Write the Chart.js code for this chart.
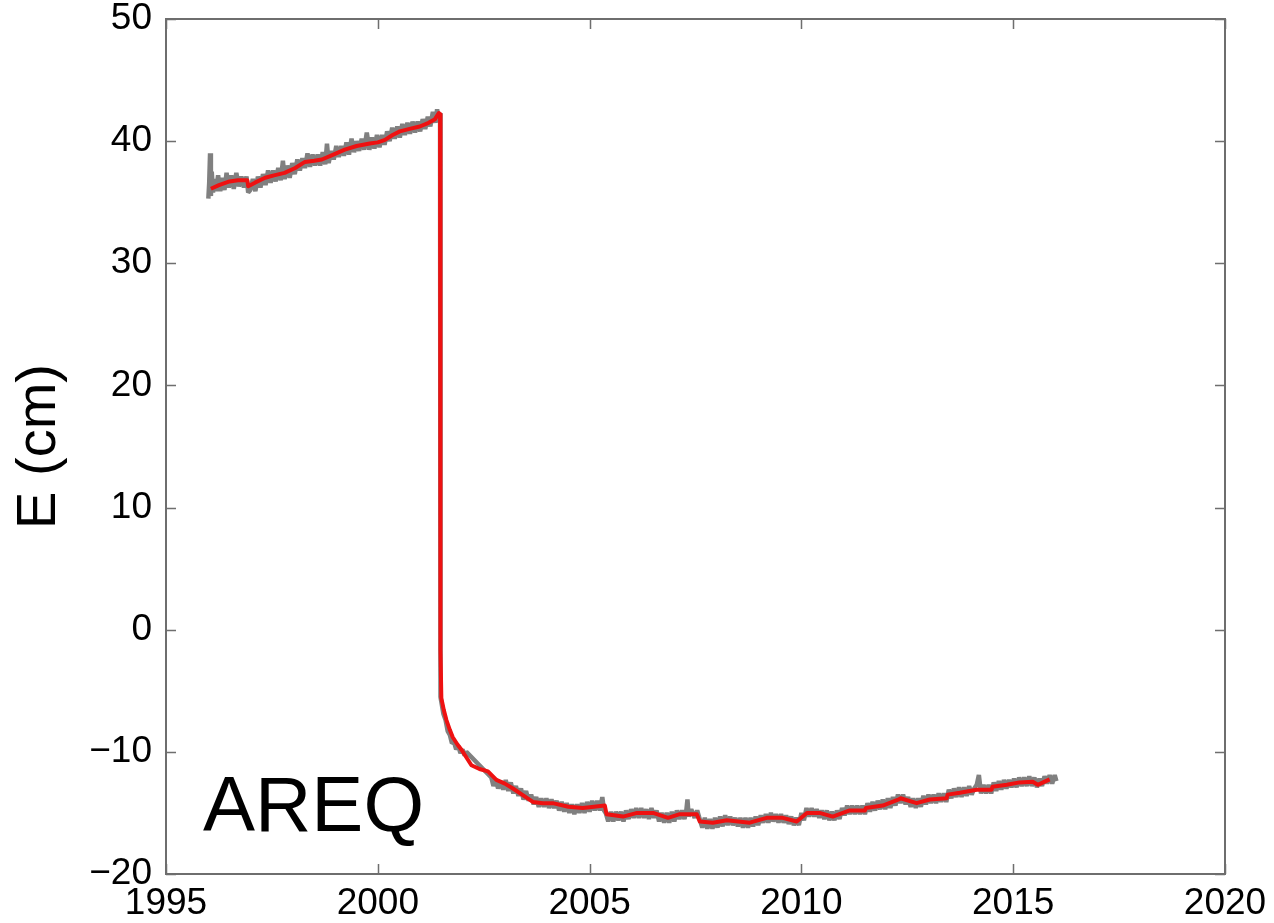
<!DOCTYPE html>
<html>
<head>
<meta charset="utf-8">
<script src="https://cdn.jsdelivr.net/npm/chart.js@4.4.1/dist/chart.umd.min.js"></script>
<style>
  html, body { margin: 0; padding: 0; background: #fff; }
  #wrap { width: 1274px; height: 923px; position: relative; }
</style>
</head>
<body>
<div id="wrap"><canvas id="grafico" width="1274" height="923"></canvas></div>
<script>
// station name + axis ticks
const station = 'AREQ';
const xTicks = [1995, 2000, 2005, 2010, 2015, 2020];
const yTicks = [-20, -10, 0, 10, 20, 30, 40, 50];

// observed daily positions (grey), east component, cm
const obsYears = [
  1996.00, 1996.02, 1996.04, 1996.06, 1996.08, 1996.11, 1996.14, 1996.18, 1996.23, 1996.28,
  1996.33, 1996.38, 1996.43, 1996.48, 1996.54, 1996.60, 1996.66, 1996.72, 1996.78, 1996.84,
  1996.90, 1996.94, 1996.99, 1997.05, 1997.11, 1997.17, 1997.23, 1997.29, 1997.35, 1997.41,
  1997.47, 1997.53, 1997.59, 1997.65, 1997.71, 1997.76, 1997.80, 1997.86, 1997.92, 1997.98,
  1998.04, 1998.10, 1998.16, 1998.22, 1998.28, 1998.34, 1998.40, 1998.46, 1998.52, 1998.58,
  1998.64, 1998.70, 1998.76, 1998.80, 1998.84, 1998.90, 1998.96, 1999.02, 1999.08, 1999.14,
  1999.20, 1999.26, 1999.32, 1999.38, 1999.44, 1999.50, 1999.56, 1999.62, 1999.68, 1999.74,
  1999.80, 1999.86, 1999.92, 1999.98, 2000.04, 2000.10, 2000.16, 2000.22, 2000.28, 2000.34,
  2000.40, 2000.46, 2000.52, 2000.58, 2000.64, 2000.70, 2000.76, 2000.82, 2000.88, 2000.94,
  2001.00, 2001.06, 2001.12, 2001.18, 2001.24, 2001.30, 2001.36, 2001.40, 2001.44, 2001.47,
  2001.48, 2001.50, 2001.55, 2001.60, 2001.65, 2001.70, 2001.75, 2001.80, 2001.85, 2001.90,
  2001.95, 2002.00, 2002.05, 2002.09, 2002.68, 2002.73, 2002.78, 2002.84, 2002.90, 2002.96,
  2003.02, 2003.08, 2003.14, 2003.20, 2003.26, 2003.32, 2003.38, 2003.44, 2003.50, 2003.56,
  2003.62, 2003.68, 2003.74, 2003.80, 2003.86, 2003.92, 2003.98, 2004.04, 2004.10, 2004.16,
  2004.22, 2004.28, 2004.34, 2004.40, 2004.46, 2004.52, 2004.58, 2004.64, 2004.70, 2004.76,
  2004.82, 2004.88, 2004.94, 2005.00, 2005.06, 2005.12, 2005.18, 2005.24, 2005.30, 2005.34,
  2005.38, 2005.44, 2005.50, 2005.56, 2005.62, 2005.68, 2005.74, 2005.80, 2005.86, 2005.92,
  2005.98, 2006.04, 2006.10, 2006.16, 2006.22, 2006.28, 2006.34, 2006.40, 2006.46, 2006.52,
  2006.58, 2006.64, 2006.70, 2006.76, 2006.82, 2006.88, 2006.94, 2007.00, 2007.06, 2007.12,
  2007.18, 2007.24, 2007.28, 2007.31, 2007.34, 2007.40, 2007.48, 2007.54, 2007.60, 2007.66,
  2007.72, 2007.78, 2007.84, 2007.90, 2007.96, 2008.02, 2008.08, 2008.14, 2008.20, 2008.26,
  2008.32, 2008.38, 2008.44, 2008.50, 2008.56, 2008.62, 2008.68, 2008.74, 2008.80, 2008.86,
  2008.92, 2008.98, 2009.04, 2009.10, 2009.16, 2009.22, 2009.28, 2009.34, 2009.40, 2009.46,
  2009.52, 2009.58, 2009.64, 2009.70, 2009.76, 2009.82, 2009.88, 2009.94, 2010.00, 2010.06,
  2010.12, 2010.18, 2010.24, 2010.30, 2010.36, 2010.42, 2010.48, 2010.54, 2010.60, 2010.66,
  2010.72, 2010.78, 2010.84, 2010.90, 2010.96, 2011.02, 2011.08, 2011.14, 2011.20, 2011.26,
  2011.32, 2011.38, 2011.44, 2011.50, 2011.56, 2011.62, 2011.68, 2011.74, 2011.80, 2011.86,
  2011.92, 2011.98, 2012.04, 2012.10, 2012.16, 2012.22, 2012.28, 2012.34, 2012.40, 2012.46,
  2012.52, 2012.58, 2012.64, 2012.70, 2012.76, 2012.82, 2012.88, 2012.94, 2013.00, 2013.06,
  2013.12, 2013.18, 2013.24, 2013.30, 2013.36, 2013.42, 2013.48, 2013.54, 2013.60, 2013.66,
  2013.72, 2013.78, 2013.84, 2013.90, 2013.96, 2014.02, 2014.08, 2014.14, 2014.19, 2014.24,
  2014.30, 2014.36, 2014.42, 2014.48, 2014.54, 2014.60, 2014.66, 2014.72, 2014.78, 2014.84,
  2014.90, 2014.96, 2015.02, 2015.08, 2015.14, 2015.20, 2015.26, 2015.32, 2015.38, 2015.44,
  2015.50, 2015.56, 2015.62, 2015.68, 2015.74, 2015.80, 2015.86, 2015.92, 2015.98, 2016.02
];
const obsEast = [
  35.3, 36.6, 39.0, 35.5, 37.5, 35.8, 36.9, 35.9, 37.2, 35.9,
  37.0, 36.0, 37.4, 36.2, 37.2, 36.1, 37.4, 36.3, 37.1, 36.2,
  37.1, 35.8, 36.0, 36.9, 35.9, 37.1, 36.2, 37.3, 36.4, 37.6,
  36.6, 37.6, 36.7, 37.8, 36.8, 38.4, 36.9, 38.0, 37.0, 38.2,
  37.3, 38.5, 37.6, 38.6, 37.8, 39.0, 37.9, 38.9, 38.0, 38.9,
  38.0, 39.1, 38.1, 39.8, 38.2, 39.2, 38.5, 39.6, 38.7, 39.6,
  38.8, 39.9, 38.9, 40.2, 39.1, 40.0, 39.2, 40.2, 39.3, 40.7,
  39.3, 40.3, 39.4, 40.5, 39.5, 40.5, 39.7, 40.8, 40.0, 41.1,
  40.2, 41.2, 40.3, 41.4, 40.5, 41.5, 40.6, 41.6, 40.7, 41.6,
  40.8, 41.8, 41.0, 42.0, 41.2, 42.4, 41.5, 42.6, 41.8, 42.3,
  -5.5, -5.9, -6.9, -7.4, -8.3, -8.6, -9.3, -9.2, -9.8, -9.5,
  -10.1, -9.8, -10.3, -10.0, -12.1, -12.8, -12.2, -13.0, -12.4, -13.1,
  -12.3, -13.2, -12.5, -13.4, -12.8, -13.6, -13.0, -13.9, -13.2, -14.0,
  -13.5, -14.3, -13.7, -14.5, -13.8, -14.5, -13.8, -14.6, -13.9, -14.6,
  -14.0, -14.8, -14.1, -14.9, -14.2, -15.0, -14.3, -15.1, -14.3, -15.0,
  -14.2, -15.0, -14.1, -14.9, -14.0, -14.8, -14.0, -14.8, -13.7, -14.8,
  -15.0, -15.7, -14.9, -15.7, -14.9, -15.6, -14.9, -15.7, -14.8, -15.5,
  -14.7, -15.4, -14.6, -15.4, -14.6, -15.4, -14.7, -15.5, -14.6, -15.4,
  -14.8, -15.7, -15.0, -15.8, -15.0, -15.8, -14.9, -15.7, -14.8, -15.5,
  -14.8, -15.5, -14.9, -13.9, -15.3, -14.7, -15.4, -14.8, -15.5, -16.2,
  -15.4, -16.3, -15.5, -16.3, -15.4, -16.2, -15.3, -16.1, -15.2, -16.0,
  -15.3, -16.0, -15.4, -16.1, -15.4, -16.2, -15.4, -16.2, -15.4, -16.1,
  -15.3, -16.0, -15.2, -15.8, -15.1, -15.8, -15.0, -15.7, -15.1, -15.8,
  -15.1, -15.8, -15.2, -15.9, -15.3, -16.0, -15.4, -16.0, -15.0, -15.6,
  -14.6, -15.3, -14.6, -15.3, -14.7, -15.4, -14.8, -15.5, -14.8, -15.6,
  -14.9, -15.6, -14.8, -15.5, -14.6, -15.2, -14.4, -15.1, -14.4, -15.1,
  -14.4, -15.1, -14.4, -15.1, -14.2, -14.9, -14.1, -14.8, -14.0, -14.7,
  -13.9, -14.7, -13.8, -14.6, -13.7, -14.4, -13.5, -14.2, -13.5, -14.3,
  -13.7, -14.5, -13.8, -14.6, -13.8, -14.5, -13.6, -14.3, -13.5, -14.2,
  -13.5, -14.2, -13.4, -14.1, -13.4, -14.1, -13.1, -13.8, -13.0, -13.7,
  -12.9, -13.7, -12.9, -13.6, -12.8, -13.5, -13.0, -12.7, -11.9, -13.4,
  -12.7, -13.4, -12.7, -13.4, -12.5, -13.2, -12.4, -13.1, -12.3, -13.0,
  -12.3, -12.9, -12.2, -12.9, -12.1, -12.8, -12.1, -12.8, -12.0, -12.8,
  -12.1, -12.9, -12.2, -12.8, -12.0, -12.6, -11.9, -12.6, -11.9, -12.4
];

// model (red): trend + seasonal + coseismic + postseismic
const modelYears = [
  1996.06, 1996.25, 1996.50, 1996.70, 1996.92, 1996.94, 1997.10, 1997.34, 1997.55, 1997.80,
  1998.05, 1998.28, 1998.50, 1998.68, 1998.95, 1999.22, 1999.50, 1999.81, 2000.00, 2000.17,
  2000.35, 2000.52, 2000.75, 2000.99, 2001.20, 2001.35, 2001.44, 2001.47, 2001.48, 2001.50,
  2001.56, 2001.62, 2001.70, 2001.77, 2001.88, 2001.98, 2002.10, 2002.21, 2002.40, 2002.60,
  2002.80, 2003.00, 2003.19, 2003.45, 2003.66, 2003.90, 2004.13, 2004.50, 2004.84, 2005.10,
  2005.36, 2005.40, 2005.79, 2006.12, 2006.50, 2006.85, 2007.13, 2007.53, 2007.60, 2007.91,
  2008.24, 2008.78, 2009.18, 2009.56, 2009.89, 2010.13, 2010.43, 2010.74, 2011.14, 2011.50,
  2011.52, 2011.92, 2012.30, 2012.34, 2012.72, 2013.03, 2013.43, 2013.45, 2013.74, 2014.14,
  2014.49, 2014.51, 2014.85, 2015.15, 2015.46, 2015.58, 2015.86
];
const modelEast = [
  36.1, 36.4, 36.7, 36.8, 36.8, 36.3, 36.6, 37.0, 37.2, 37.4,
  37.8, 38.3, 38.4, 38.5, 38.9, 39.3, 39.6, 39.8, 39.9, 40.1,
  40.5, 40.8, 41.0, 41.2, 41.5, 41.8, 42.3, 42.2, -1.7, -5.6,
  -6.6, -7.4, -8.2, -8.8, -9.4, -9.85, -10.5, -11.1, -11.4, -11.6,
  -12.3, -12.6, -13.0, -13.6, -14.1, -14.2, -14.2, -14.5, -14.6, -14.5,
  -14.4, -15.1, -15.3, -15.0, -15.0, -15.4, -15.1, -15.1, -15.7, -15.8,
  -15.6, -15.8, -15.4, -15.4, -15.7, -15.0, -15.0, -15.3, -14.8, -14.8,
  -14.6, -14.4, -13.9, -13.8, -14.2, -13.9, -13.8, -13.5, -13.35, -13.1,
  -13.1, -12.85, -12.7, -12.5, -12.45, -12.7, -12.25
];

const fuente = '"Liberation Sans", Arial, Helvetica, sans-serif';
const toPts = (xs, ys) => xs.map((x, i) => ({ x: x, y: ys[i] }));
const menos = (v) => String(v).replace('-', '\u2212');

// frame on all four sides with inward ticks, plus station label
const marco = {
  id: 'marco',
  afterDraw(chart) {
    const { ctx, chartArea: a, scales } = chart;
    ctx.save();
    ctx.strokeStyle = '#6e6e6e';
    ctx.lineWidth = 2;
    ctx.strokeRect(a.left, a.top, a.right - a.left, a.bottom - a.top);
    ctx.lineWidth = 1.5;
    ctx.beginPath();
    xTicks.forEach(t => {
      const px = Math.round(scales.x.getPixelForValue(t)) + 0.5;
      ctx.moveTo(px, a.bottom); ctx.lineTo(px, a.bottom - 10);
      ctx.moveTo(px, a.top); ctx.lineTo(px, a.top + 10);
    });
    yTicks.forEach(t => {
      const py = Math.round(scales.y.getPixelForValue(t)) + 0.5;
      ctx.moveTo(a.left, py); ctx.lineTo(a.left + 10, py);
      ctx.moveTo(a.right, py); ctx.lineTo(a.right - 10, py);
    });
    ctx.stroke();
    ctx.fillStyle = '#000';
    ctx.font = '78px ' + fuente;
    ctx.textBaseline = 'alphabetic';
    ctx.fillText(station, a.left + 37, a.bottom - 43);
    ctx.restore();
  }
};

const canvas = document.querySelector('#grafico');
const miGrafico = new Chart(canvas.getContext('2d'), {
  type: 'scatter',
  data: {
    datasets: [
      {
        label: 'model',
        data: toPts(modelYears, modelEast),
        showLine: true,
        borderColor: '#ee1111',
        borderWidth: 4,
        borderJoinStyle: 'round',
        pointRadius: 0,
        tension: 0,
        order: 0
      },
      {
        label: 'obs',
        data: toPts(obsYears, obsEast),
        showLine: true,
        borderColor: '#808080',
        borderWidth: 4.5,
        borderJoinStyle: 'bevel',
        pointRadius: 0,
        tension: 0,
        order: 1
      }
    ]
  },
  options: {
    responsive: false,
    animation: false,
    events: [],
    layout: { padding: { top: 19, right: 49, left: 0, bottom: 0 } },
    plugins: { legend: { display: false }, tooltip: { enabled: false } },
    scales: {
      x: {
        type: 'linear',
        min: 1995, max: 2020,
        afterBuildTicks: (s) => { s.ticks = xTicks.map(v => ({ value: v })); },
        afterFit: (s) => { s.height = 49; s.paddingLeft = 0; s.paddingRight = 0; },
        grid: { display: false, drawTicks: false },
        border: { display: false },
        ticks: {
          color: '#000', padding: 8, maxRotation: 0,
          font: { size: 37, family: fuente },
          callback: (v) => String(v)
        }
      },
      y: {
        type: 'linear',
        min: -20, max: 50,
        afterBuildTicks: (s) => { s.ticks = yTicks.map(v => ({ value: v })); },
        afterFit: (s) => { s.width = 166; s.paddingTop = 0; s.paddingBottom = 0; },
        grid: { display: false, drawTicks: false },
        border: { display: false },
        title: {
          display: true, text: 'E (cm)', color: '#000',
          font: { size: 56, family: fuente },
          padding: { top: 6, bottom: 0 }
        },
        ticks: {
          color: '#000', padding: 14,
          font: { size: 37, family: fuente },
          callback: (v) => menos(v)
        }
      }
    }
  },
  plugins: [marco]
});
</script>
</body>
</html>
